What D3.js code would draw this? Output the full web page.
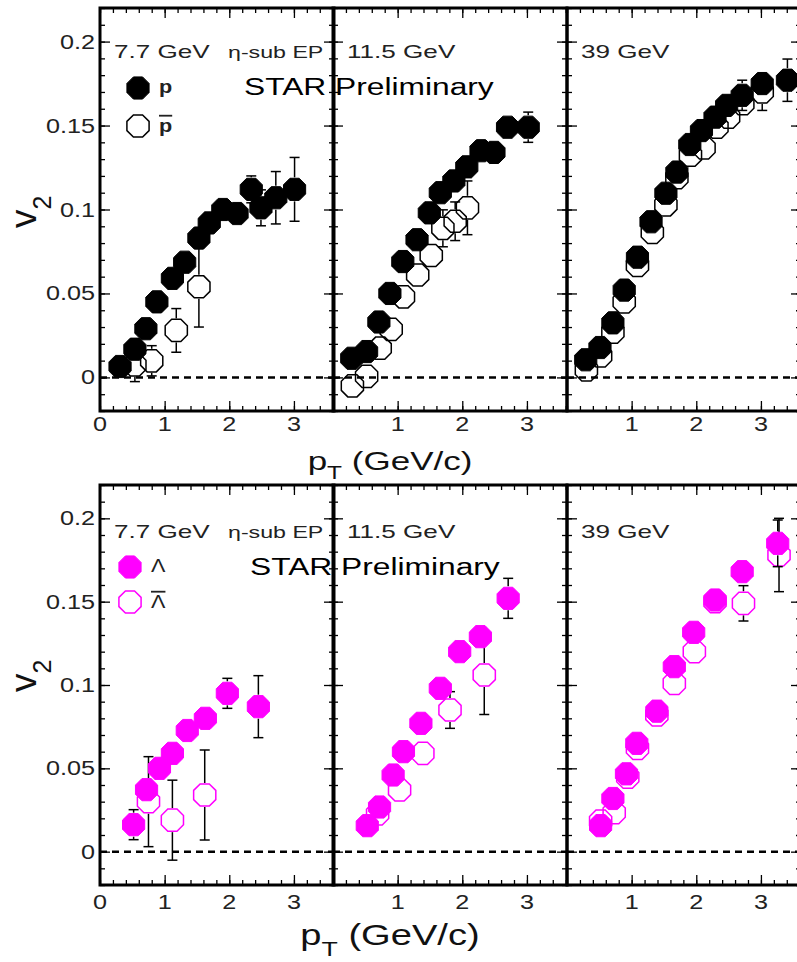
<!DOCTYPE html>
<html>
<head>
<meta charset="utf-8">
<script src="https://cdn.jsdelivr.net/npm/d3@7"></script>
<style>
  body { margin: 0; background: #fff; }
  svg { display: block; font-family: "Liberation Sans", Arial, sans-serif; }
</style>
</head>
<body>
<svg width="797" height="962"></svg>
<script>
// energies shown in the three columns
const energies = ["7.7 GeV", "11.5 GeV", "39 GeV"];
const xTickLabels = [[0, 1, 2, 3], [1, 2, 3], [1, 2, 3]];
const yTickLabels = [0, 0.05, 0.1, 0.15, 0.2];

// [pT, v2, error]
const proton_7_7 = [[0.31,0.0065,0.002],[0.54,0.0168,0.002],[0.71,0.029,0.002],[0.88,0.045,0.003],[1.12,0.059,0.003],[1.31,0.0686,0.003],[1.53,0.083,0.004],[1.69,0.092,0.004],[1.90,0.100,0.005],[2.12,0.0976,0.005],[2.34,0.112,0.008],[2.49,0.101,0.0107],[2.72,0.107,0.0156],[3.01,0.112,0.019]];
const antiproton_7_7 = [[0.54,0.0075,0.01],[0.80,0.0099,0.009],[1.18,0.028,0.013],[1.53,0.054,0.024]];
const proton_11_5 = [[0.29,0.0114,0.002],[0.52,0.0154,0.002],[0.71,0.033,0.002],[0.88,0.050,0.003],[1.08,0.069,0.003],[1.30,0.082,0.003],[1.49,0.098,0.003],[1.66,0.110,0.004],[1.87,0.117,0.004],[2.07,0.1254,0.004],[2.29,0.135,0.005],[2.49,0.134,0.005],[2.70,0.149,0.007],[3.02,0.149,0.009]];
const antiproton_11_5 = [[0.30,-0.005,0.007],[0.52,0.0006,0.004],[0.73,0.0174,0.004],[0.90,0.0286,0.004],[1.09,0.048,0.005],[1.31,0.061,0.006],[1.52,0.0726,0.006],[1.70,0.0888,0.011],[1.89,0.093,0.0115],[2.08,0.101,0.016]];
const proton_39 = [[0.29,0.0105,0.001],[0.51,0.0178,0.001],[0.71,0.0325,0.001],[0.885,0.052,0.001],[1.09,0.0716,0.002],[1.30,0.0927,0.002],[1.53,0.1097,0.002],[1.70,0.1223,0.002],[1.90,0.1387,0.003],[2.08,0.147,0.003],[2.29,0.155,0.004],[2.47,0.162,0.005],[2.71,0.168,0.009],[3.02,0.175,0.006],[3.41,0.177,0.0126]];
const antiproton_39 = [[0.30,0.0045,0.001],[0.52,0.0128,0.001],[0.71,0.027,0.001],[0.885,0.045,0.002],[1.09,0.0667,0.002],[1.32,0.0864,0.002],[1.53,0.1028,0.003],[1.70,0.119,0.003],[1.91,0.1323,0.004],[2.12,0.1367,0.004],[2.32,0.149,0.005],[2.50,0.155,0.006],[2.72,0.163,0.007],[3.02,0.170,0.011]];

const lambda_7_7 = [[0.52,0.0162,0.009],[0.72,0.0372,0.005],[0.92,0.050,0.004],[1.12,0.059,0.004],[1.35,0.0727,0.005],[1.63,0.080,0.0066],[1.97,0.095,0.009],[2.45,0.087,0.0186]];
const antilambda_7_7 = [[0.75,0.030,0.027],[1.12,0.0189,0.024],[1.62,0.034,0.027]];
const lambda_11_5 = [[0.53,0.0156,0.003],[0.72,0.0268,0.004],[0.93,0.046,0.004],[1.09,0.060,0.004],[1.36,0.077,0.005],[1.66,0.098,0.005],[1.96,0.120,0.006],[2.28,0.129,0.0065],[2.71,0.152,0.012]];
const antilambda_11_5 = [[0.69,0.0227,0.005],[1.03,0.037,0.005],[1.39,0.059,0.0066],[1.81,0.085,0.011],[2.34,0.106,0.0237]];
const lambda_39 = [[0.52,0.0156,0.003],[0.71,0.0319,0.003],[0.92,0.0467,0.003],[1.08,0.065,0.003],[1.39,0.0843,0.003],[1.66,0.111,0.004],[1.96,0.1316,0.004],[2.29,0.151,0.0056],[2.71,0.168,0.0066],[3.26,0.185,0.014]];
const antilambda_39 = [[0.52,0.0183,0.004],[0.73,0.0234,0.003],[0.94,0.0447,0.003],[1.09,0.062,0.003],[1.39,0.082,0.004],[1.66,0.101,0.004],[1.97,0.120,0.005],[2.29,0.150,0.006],[2.73,0.149,0.0106],[3.28,0.178,0.022]];

const rows = [
    { top: 8, bottom: 411, color: "#000", particle: [proton_7_7, proton_11_5, proton_39], anti: [antiproton_7_7, antiproton_11_5, antiproton_39], names: ["p", "p"], titleY: 470, titleSize: 25, titleSX: 1.4, tickY: 431 },
    { top: 485, bottom: 885, color: "#ff00ff", particle: [lambda_7_7, lambda_11_5, lambda_39], anti: [antilambda_7_7, antilambda_11_5, antilambda_39], names: ["\u039b", "\u039b"], titleY: 945, titleSize: 30, titleSX: 1.27, tickY: 909 }
];

const panelLefts = [100, 333, 567];
const panelWidth = 234;
const R = 12;
const SX = 1.2; // text in the picture is stretched sideways

const svg = d3.select("svg");

const octagon = d3.lineRadial()
    .angle((d) => d * Math.PI / 4 + Math.PI / 8)
    .radius(R)
    .curve(d3.curveLinearClosed);
const octPath = octagon(d3.range(8));

function stretchedText(g, x, y, str, sx = SX) {
    return g.append("text")
        .attr("transform", `translate(${x},${y}) scale(${sx},1)`)
        .text(str);
}

function drawSeries(g, data, x, y, filled, color) {
    // error bars stop at marker edge, like ROOT does
    data.forEach(([pt, v, e]) => {
        const cx = x(pt), cy = y(v);
        const hi = y(v + e), lo = y(v - e);
        if (cy - hi > R) {
            g.append("line").attr("x1", cx).attr("x2", cx).attr("y1", hi).attr("y2", cy - R)
                .attr("stroke", "#000").attr("stroke-width", 1.5);
            g.append("line").attr("x1", cx - 5).attr("x2", cx + 5).attr("y1", hi).attr("y2", hi)
                .attr("stroke", "#000").attr("stroke-width", 1.5);
        }
        if (lo - cy > R) {
            g.append("line").attr("x1", cx).attr("x2", cx).attr("y1", cy + R).attr("y2", lo)
                .attr("stroke", "#000").attr("stroke-width", 1.5);
            g.append("line").attr("x1", cx - 5).attr("x2", cx + 5).attr("y1", lo).attr("y2", lo)
                .attr("stroke", "#000").attr("stroke-width", 1.5);
        }
    });
    g.selectAll(null)
        .data(data)
        .enter()
        .append("path")
        .attr("d", octPath)
        .attr("transform", (d) => `translate(${x(d[0])},${y(d[1])})`)
        .attr("fill", filled ? color : "none")
        .attr("stroke", color)
        .attr("stroke-width", filled ? 1 : 1.5);
}

rows.forEach((row, ri) => {
    const y = d3.scaleLinear().domain([-0.02, 0.22]).range([row.bottom, row.top]);
    const h = row.bottom - row.top;
    const labelY = row.top + (ri === 0 ? 50 : 53);

    panelLefts.forEach((left, pi) => {
        const x = d3.scaleLinear().domain([0, 3.62]).range([left, left + panelWidth]);
        const g = svg.append("g");

        // zero line
        g.append("line")
            .attr("x1", x(0)).attr("x2", x(3.62))
            .attr("y1", y(0)).attr("y2", y(0))
            .attr("stroke", "#000").attr("stroke-width", 2.5)
            .attr("stroke-dasharray", "7,5");

        drawSeries(g, row.anti[pi], x, y, false, row.color);
        drawSeries(g, row.particle[pi], x, y, true, row.color);

        // ticks, all pointing inwards
        const xMinor = d3.range(0, 3.61, 0.2);
        const yMinor = d3.range(-0.02, 0.2201, 0.01);
        const axes = [
            [d3.axisBottom(x).tickValues(xMinor).tickSize(-5), `translate(0,${row.bottom})`],
            [d3.axisBottom(x).tickValues([1, 2, 3]).tickSize(-10), `translate(0,${row.bottom})`],
            [d3.axisTop(x).tickValues(xMinor).tickSize(-5), `translate(0,${row.top})`],
            [d3.axisTop(x).tickValues([1, 2, 3]).tickSize(-10), `translate(0,${row.top})`],
            [d3.axisLeft(y).tickValues(yMinor).tickSize(-5), `translate(${left},0)`],
            [d3.axisLeft(y).tickValues(yTickLabels).tickSize(-10), `translate(${left},0)`],
            [d3.axisRight(y).tickValues(yMinor).tickSize(-5), `translate(${left + panelWidth},0)`],
            [d3.axisRight(y).tickValues(yTickLabels).tickSize(-10), `translate(${left + panelWidth},0)`]
        ];
        axes.forEach(([ax, tr]) => {
            const a = g.append("g").attr("transform", tr).call(ax.tickFormat(""));
            a.select(".domain").remove();
            a.selectAll("line").attr("stroke", "#000").attr("stroke-width", 1.3);
        });

        // frame
        g.append("rect")
            .attr("x", left).attr("y", row.top)
            .attr("width", panelWidth).attr("height", h)
            .attr("fill", "none").attr("stroke", "#000").attr("stroke-width", 3);

        // x tick labels
        xTickLabels[pi].forEach((t) => {
            stretchedText(g, x(t), row.tickY, t)
                .attr("text-anchor", "middle").attr("font-size", 21).attr("fill", "#222");
        });

        // energy label
        stretchedText(g, left + 14, labelY, energies[pi], 1.45)
            .attr("font-size", 18).attr("fill", "#222");
    });

    // y tick labels
    yTickLabels.forEach((t) => {
        stretchedText(svg, 95, y(t) + 7, t === 0 ? "0" : String(t))
            .attr("text-anchor", "end").attr("font-size", 21).attr("fill", "#222");
    });

    // y title
    const yt = svg.append("text")
        .attr("transform", `translate(36,${ri === 0 ? 228 : 692}) rotate(-90)`)
        .attr("font-size", 37).attr("fill", "#111");
    yt.append("tspan").text("v");
    yt.append("tspan").attr("font-size", 25).attr("dy", 15).text("2");

    // x title
    const xt = svg.append("text")
        .attr("transform", `translate(390,${row.titleY}) scale(${row.titleSX},1)`)
        .attr("text-anchor", "middle").attr("font-size", row.titleSize).attr("fill", "#111");
    xt.append("tspan").text("p");
    xt.append("tspan").attr("font-size", row.titleSize * 0.7).attr("dy", row.titleSize * 0.35).text("T");
    xt.append("tspan").attr("dy", -row.titleSize * 0.35).text(" (GeV/c)");

    // method label and legend
    stretchedText(svg, 228, labelY, "\u03b7-sub EP", 1.45)
        .attr("font-size", 16).attr("fill", "#222");

    const legY = ri === 0 ? [row.top + 80, row.top + 118] : [row.top + 82, row.top + 117];
    const legX = ri === 0 ? 138 : 130;
    svg.append("path").attr("d", octPath).attr("transform", `translate(${legX},${legY[0]})`)
        .attr("fill", row.color).attr("stroke", row.color);
    svg.append("path").attr("d", octPath).attr("transform", `translate(${legX},${legY[1]})`)
        .attr("fill", "none").attr("stroke", row.color).attr("stroke-width", 1.5);
    stretchedText(svg, legX + 21, legY[0] + 5, row.names[0])
        .attr("font-size", 18).attr("font-weight", ri === 0 ? "bold" : "normal").attr("fill", "#222");
    stretchedText(svg, legX + 21, legY[1] + 6, row.names[1])
        .attr("font-size", 18).attr("font-weight", ri === 0 ? "bold" : "normal").attr("fill", "#222")
        .attr("text-decoration", "overline");

    // STAR Preliminary
    stretchedText(svg, ri === 0 ? 244 : 250, ri === 0 ? 95 : 575, "STAR Preliminary", 1.38)
        .attr("font-size", 23).attr("fill", "#000");
});
</script>
</body>
</html>
